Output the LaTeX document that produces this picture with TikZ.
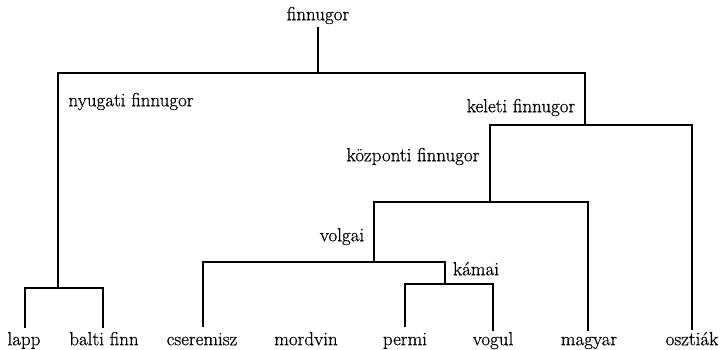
\documentclass[tikz,border=0pt]{standalone}
\usepackage{fontspec}
\newfontfamily\lblfont{Latin Modern Roman}[FakeBold=0.6]
\begin{document}
\begin{tikzpicture}[x=1pt,y=-1pt,
  lbl/.style={font=\lblfont\fontsize{19}{22}\selectfont, inner sep=1pt, text height=12pt, text depth=3.5pt},
  branch/.style={line width=1.6pt, black}]
\useasboundingbox (0,0) rectangle (721,350);
% labels
\node[lbl] (fin) at (318,16) {finnugor};
\node[lbl] (nyf) at (131,102) {nyugati finnugor};
\node[lbl] (kef) at (521,108) {keleti finnugor};
\node[lbl] (kof) at (413,157) {központi finnugor};
\node[lbl] (vol) at (342,237) {volgai};
\node[lbl] (kam) at (476,271) {kámai};
% leaves
\node[lbl, anchor=north] (lapp) at (24,332) {lapp};
\node[lbl, anchor=north] (balti) at (104,332) {balti finn};
\node[lbl, anchor=north] (cser) at (202,332) {cseremisz};
\node[lbl, anchor=north] (mord) at (306,332) {mordvin};
\node[lbl, anchor=north] (permi) at (405,332) {permi};
\node[lbl, anchor=north] (vogul) at (493,332) {vogul};
\node[lbl, anchor=north] (magyar) at (589,332) {magyar};
\node[lbl, anchor=north] (oszt) at (692,332) {osztiák};
% junctions
\coordinate (top) at (318,73);
\coordinate (nw) at (58,288);
\coordinate (ke) at (585,125);
\coordinate (ko) at (490,202);
\coordinate (vo) at (374,262);
\coordinate (ka) at (445,284);
% branches
\draw[branch, shorten <=2pt] (fin) -- (top);
\draw[branch] (nw) |- (top) -| (ke);
\draw[branch, shorten <=4pt, shorten >=4pt] ([xshift=1pt]lapp.north) |- (nw) -| ([xshift=-1pt]balti.north);
\draw[branch, shorten >=2pt] (ko) |- (ke) -| (oszt.north);
\draw[branch, shorten >=1pt] (vo) |- (ko) -| ([xshift=-1pt]magyar.north);
\draw[branch, shorten <=5pt] ([xshift=1pt]cser.north) |- (vo) -| (ka);
\draw[branch, shorten <=5pt, shorten >=1pt] (permi.north) |- (ka) -| (vogul.north);
\end{tikzpicture}
\end{document}
